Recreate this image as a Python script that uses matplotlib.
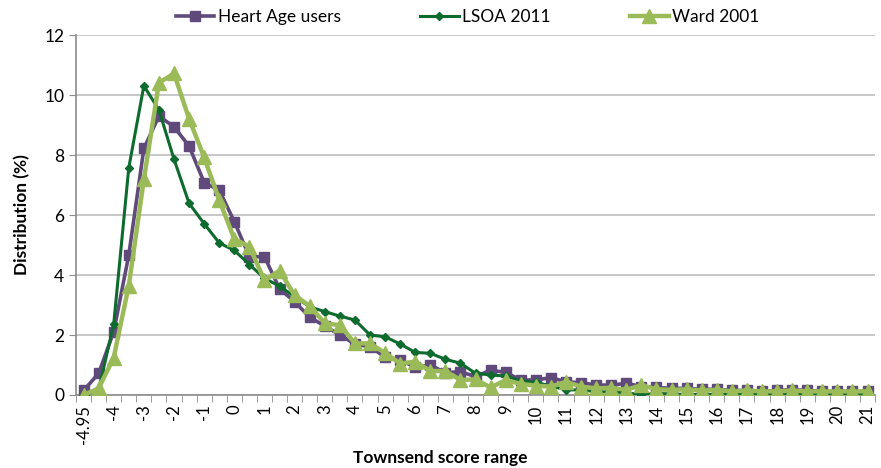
import matplotlib
matplotlib.use("Agg")
import matplotlib.pyplot as plt
import numpy as np

plt.rcParams['font.family'] = ['Lato', 'DejaVu Sans']

# Townsend score categories (-4.95 then half steps up to 21)
categories = ['-4.95', '-4.5', '-4', '-3.5', '-3', '-2.5', '-2', '-1.5', '-1', '-0.5',
              '0', '0.5', '1', '1.5', '2', '2.5', '3', '3.5', '4', '4.5',
              '5', '5.5', '6', '6.5', '7', '7.5', '8', '8.5', '9', '9.5',
              '10', '10.5', '11', '11.5', '12', '12.5', '13', '13.5', '14', '14.5',
              '15', '15.5', '16', '16.5', '17', '17.5', '18', '18.5', '19', '19.5',
              '20', '20.5', '21']

heart_age = [0.15, 0.72, 2.11, 4.67, 8.22, 9.30, 8.94, 8.30, 7.08, 6.83,
             5.78, 4.61, 4.61, 3.54, 3.11, 2.59, 2.30, 2.00, 1.70, 1.60,
             1.27, 1.17, 0.92, 1.00, 0.74, 0.78, 0.61, 0.83, 0.75, 0.50,
             0.50, 0.58, 0.44, 0.41, 0.33, 0.33, 0.39, 0.28, 0.25, 0.22,
             0.22, 0.19, 0.19, 0.15, 0.15, 0.12, 0.15, 0.18, 0.15, 0.12,
             0.12, 0.12, 0.12]

lsoa_2011 = [0.00, 0.17, 2.37, 7.58, 10.31, 9.50, 7.86, 6.39, 5.71, 5.07,
             4.82, 4.35, 3.89, 3.63, 3.28, 2.94, 2.78, 2.63, 2.50, 2.00,
             1.94, 1.70, 1.42, 1.39, 1.19, 1.06, 0.72, 0.67, 0.63, 0.47,
             0.42, 0.30, 0.17, 0.17, 0.11, 0.10, 0.08, 0.00, 0.06, 0.03,
             0.02, 0.02, 0.02, 0.02, 0.02, 0.02, 0.02, 0.02, 0.02, 0.02,
             0.02, 0.02, 0.02]

ward_2001 = [0.00, 0.22, 1.25, 3.65, 7.19, 10.41, 10.72, 9.21, 7.92, 6.50,
             5.20, 4.95, 3.82, 4.15, 3.32, 2.97, 2.39, 2.33, 1.72, 1.72,
             1.40, 1.05, 1.11, 0.80, 0.80, 0.50, 0.52, 0.25, 0.50, 0.37,
             0.31, 0.28, 0.44, 0.28, 0.22, 0.24, 0.17, 0.33, 0.19, 0.17,
             0.19, 0.15, 0.17, 0.12, 0.15, 0.12, 0.12, 0.15, 0.12, 0.12,
             0.12, 0.12, 0.12]

x = np.arange(len(categories))

fig = plt.figure(figsize=(8.81, 4.68), dpi=100)
ax = fig.add_axes([0.0863, 0.156, 0.907, 0.769])

ax.plot(x, heart_age, color='#604A7B', lw=2.6, marker='s', ms=7.5,
        label='Heart Age users', zorder=3)
ax.plot(x, lsoa_2011, color='#0E6B2E', lw=2.2, marker='D', ms=4.5,
        label='LSOA 2011', zorder=4)
ax.plot(x, ward_2001, color='#9BBB59', lw=3.2, marker='^', ms=10,
        label='Ward 2001', zorder=5)

ax.set_xlim(-0.5, len(categories) - 0.5)
ax.set_ylim(0, 12)
ax.set_yticks(np.arange(0, 13, 2))
ax.yaxis.grid(True, color='#BDBDBD', lw=1.2)
ax.set_axisbelow(True)

ax.set_xticks(x[::2])
ax.set_xticklabels(categories[::2], rotation=90)
ax.set_xticks(np.arange(-0.5, len(categories), 1), minor=True)
ax.tick_params(axis='x', which='major', length=0, pad=7, labelsize=12)
ax.tick_params(axis='x', which='minor', length=5, color='#8C8C8C')
ax.tick_params(axis='y', length=5, color='#8C8C8C', labelsize=12.5)

for s in ['top', 'right']:
    ax.spines[s].set_visible(False)
for s in ['left', 'bottom']:
    ax.spines[s].set_color('#8C8C8C')
    ax.spines[s].set_linewidth(1.2)

ax.set_ylabel('Distribution (%)', fontsize=12.5, fontweight='bold', labelpad=10)
fig.text(0.5, 0.005, 'Townsend score range', ha='center', va='bottom',
         fontsize=12.5, fontweight='bold')

ax.legend(loc='upper center', bbox_to_anchor=(0.49, 1.115), ncol=3,
          frameon=False, fontsize=12.5, handlelength=2.2, columnspacing=4.6,
          handletextpad=0.2)

fig.savefig('out.png', dpi=100)
